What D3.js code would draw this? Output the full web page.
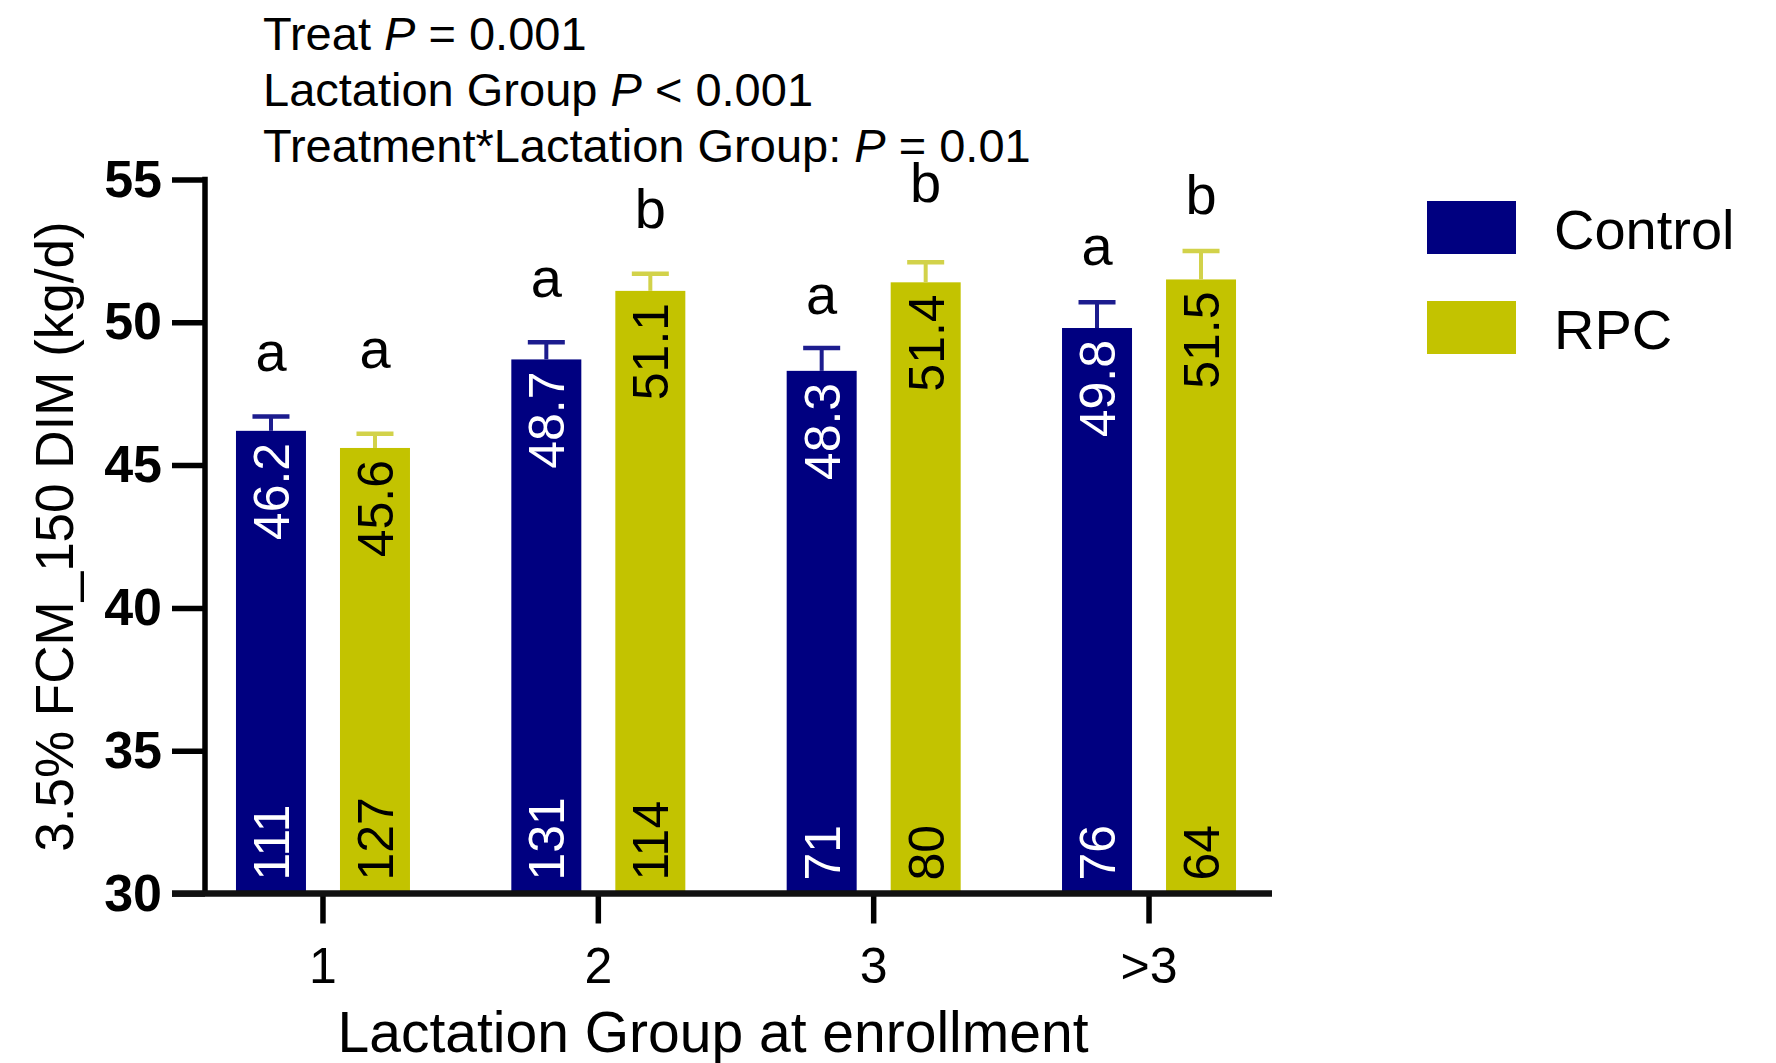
<!DOCTYPE html>
<html>
<head>
<meta charset="utf-8">
<script src="https://cdn.jsdelivr.net/npm/d3@7"></script>
<style>
  html, body { margin: 0; padding: 0; background: #fff; }
  svg { display: block; font-family: "Liberation Sans", Arial, Helvetica, sans-serif; }
</style>
</head>
<body>
<svg id="chart" width="1776" height="1063"></svg>
<script>
// ---------------- data ----------------
const categories = ["1", "2", "3", ">3"];
const seriesNames = ["Control", "RPC"];
const controlMeans = [46.2, 48.7, 48.3, 49.8];
const rpcMeans = [45.6, 51.1, 51.4, 51.5];
const controlSE = [0.5, 0.6, 0.8, 0.9];
const rpcSE = [0.5, 0.6, 0.7, 1.0];
const controlN = [111, 131, 71, 76];
const rpcN = [127, 114, 80, 64];
const controlLetters = ["a", "a", "a", "a"];
const rpcLetters = ["a", "b", "b", "b"];
const controlLetterLevel = [48.3, 50.9, 50.3, 52.0];
const rpcLetterLevel = [48.4, 53.3, 54.2, 53.8];
const yTicks = [30, 35, 40, 45, 50, 55];
const statLines = [
  ["Treat ", "P", " = 0.001"],
  ["Lactation Group ", "P", " < 0.001"],
  ["Treatment*Lactation Group: ", "P", " = 0.01"]
];
const yTitle = "3.5% FCM_150 DIM (kg/d)";
const xTitle = "Lactation Group at enrollment";

// ---------------- build rows ----------------
const seriesData = {
  Control: { means: controlMeans, se: controlSE, n: controlN, letters: controlLetters, lvl: controlLetterLevel },
  RPC: { means: rpcMeans, se: rpcSE, n: rpcN, letters: rpcLetters, lvl: rpcLetterLevel }
};
const rows = [];
categories.forEach((c, i) => {
  seriesNames.forEach(s => {
    const d = seriesData[s];
    rows.push({ cat: c, series: s, mean: d.means[i], se: d.se[i], n: d.n[i], letter: d.letters[i], lvl: d.lvl[i] });
  });
});

// ---------------- layout / style ----------------
const colors = { Control: "#000080", RPC: "#c3c300" };
const errColors = { Control: "#1c1c8e", RPC: "#d2d24a" };
const labelColors = { Control: "#ffffff", RPC: "#000000" };
const font = "'Liberation Sans', Arial, Helvetica, sans-serif";

const svg = d3.select("#chart");

const yAxisX = 205;
const y = d3.scaleLinear().domain([30, 55]).range([893.5, 179.5]);
const x = d3.scaleBand().domain(categories).range([185.3, 1286.7]).paddingInner(0).paddingOuter(0);
const xs = d3.scaleBand().domain(seriesNames).range([-87, 87]).paddingInner(0.327).paddingOuter(0);

const barCenter = d => x(d.cat) + x.bandwidth() / 2 + xs(d.series) + xs.bandwidth() / 2;

// ---------------- bars ----------------
svg.append("g").selectAll("rect").data(rows).join("rect")
  .attr("x", d => barCenter(d) - xs.bandwidth() / 2)
  .attr("width", xs.bandwidth())
  .attr("y", d => y(d.mean))
  .attr("height", d => y(30) - y(d.mean))
  .attr("fill", d => colors[d.series]);

// ---------------- error bars ----------------
const capW = 37;
const eb = svg.append("g").selectAll("g").data(rows).join("g");
eb.append("line")
  .attr("x1", d => barCenter(d)).attr("x2", d => barCenter(d))
  .attr("y1", d => y(d.mean)).attr("y2", d => y(d.mean + d.se))
  .attr("stroke", d => errColors[d.series]).attr("stroke-width", 4);
eb.append("line")
  .attr("x1", d => barCenter(d) - capW / 2).attr("x2", d => barCenter(d) + capW / 2)
  .attr("y1", d => y(d.mean + d.se)).attr("y2", d => y(d.mean + d.se))
  .attr("stroke", d => errColors[d.series]).attr("stroke-width", 4.5);

// ---------------- value labels (rotated) ----------------
svg.append("g").selectAll("text").data(rows).join("text")
  .attr("transform", d => `translate(${barCenter(d)},${y(d.mean) + 12}) rotate(-90)`)
  .attr("text-anchor", "end")
  .attr("dy", "0.36em")
  .attr("font-size", 50)
  .attr("fill", d => labelColors[d.series])
  .text(d => d.mean.toFixed(1));

// ---------------- n labels (rotated) ----------------
svg.append("g").selectAll("text").data(rows).join("text")
  .attr("transform", d => `translate(${barCenter(d)},${y(30) - 13}) rotate(-90)`)
  .attr("text-anchor", "start")
  .attr("dy", "0.36em")
  .attr("font-size", 50)
  .attr("fill", d => labelColors[d.series])
  .text(d => d.n);

// ---------------- significance letters ----------------
svg.append("g").selectAll("text").data(rows).join("text")
  .attr("x", d => barCenter(d))
  .attr("y", d => y(d.lvl))
  .attr("text-anchor", "middle")
  .attr("font-size", 56)
  .attr("fill", "#000")
  .text(d => d.letter);

// ---------------- y axis ----------------
const yAxisG = svg.append("g").attr("transform", `translate(${yAxisX},0)`)
  .call(d3.axisLeft(y).tickValues(yTicks).tickSize(33).tickSizeOuter(0).tickPadding(10).tickFormat(d3.format("d")));
yAxisG.select(".domain").remove();
yAxisG.selectAll(".tick line").attr("stroke", "#000").attr("stroke-width", 5.5);
yAxisG.selectAll(".tick text")
  .attr("font-family", font).attr("font-size", 52).attr("font-weight", "bold").attr("fill", "#000");
yAxisG.append("line")
  .attr("x1", 0).attr("x2", 0)
  .attr("y1", y(55) - 2.75).attr("y2", y(30))
  .attr("stroke", "#000").attr("stroke-width", 5.5);

// ---------------- x axis ----------------
const xAxisG = svg.append("g").attr("transform", `translate(0,${y(30)})`)
  .call(d3.axisBottom(x).tickSize(30).tickSizeOuter(0));
xAxisG.select(".domain").remove();
xAxisG.selectAll(".tick line").attr("stroke", "#000").attr("stroke-width", 5.5);
xAxisG.selectAll(".tick text")
  .attr("font-family", font).attr("font-size", 50).attr("fill", "#000")
  .attr("y", 89.5).attr("dy", null);
xAxisG.append("line")
  .attr("x1", yAxisX - 33).attr("x2", 1272)
  .attr("y1", 0).attr("y2", 0)
  .attr("stroke", "#111").attr("stroke-width", 6.5);

// ---------------- axis titles ----------------
svg.append("text")
  .attr("transform", `translate(73,${(y(30) + y(55)) / 2}) rotate(-90)`)
  .attr("text-anchor", "middle")
  .attr("font-size", 53)
  .attr("fill", "#000")
  .text(yTitle);

svg.append("text")
  .attr("x", 713).attr("y", 1052)
  .attr("text-anchor", "middle")
  .attr("font-size", 57)
  .attr("fill", "#000")
  .text(xTitle);

// ---------------- stats annotation ----------------
const stat = svg.append("g");
statLines.forEach((parts, i) => {
  const t = stat.append("text")
    .attr("x", 263).attr("y", 50 + i * 56)
    .attr("font-size", 47).attr("fill", "#000");
  parts.forEach((p, j) => {
    t.append("tspan").attr("font-style", j === 1 ? "italic" : "normal").text(p);
  });
});

// ---------------- legend ----------------
const legend = svg.append("g").selectAll("g").data(seriesNames).join("g")
  .attr("transform", (d, i) => `translate(1427,${201 + i * 100})`);
legend.append("rect")
  .attr("width", 89).attr("height", 53)
  .attr("fill", d => colors[d]);
legend.append("text")
  .attr("x", 127).attr("y", 48)
  .attr("font-size", 56).attr("fill", "#000")
  .text(d => d);
</script>
</body>
</html>
